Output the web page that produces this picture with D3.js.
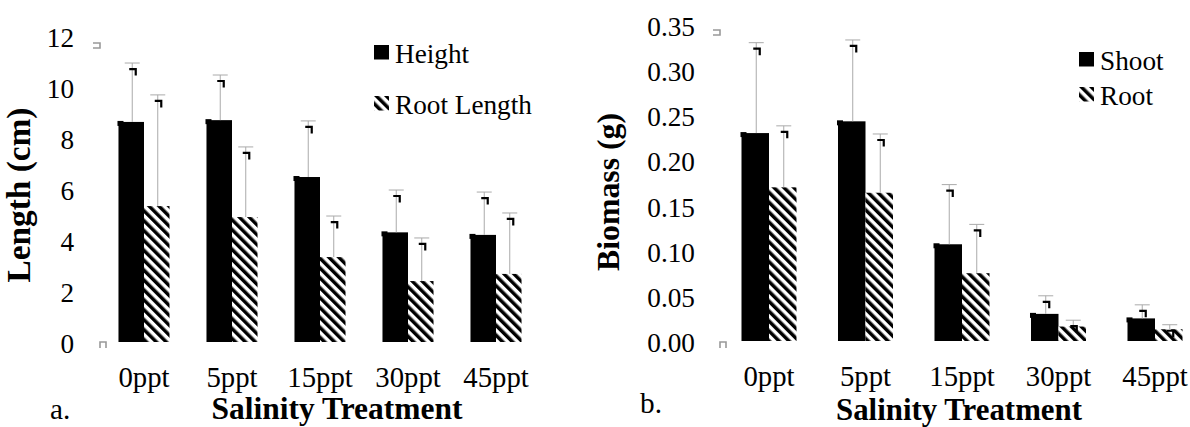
<!DOCTYPE html>
<html><head><meta charset="utf-8">
<script src="https://cdn.jsdelivr.net/npm/d3@7"></script>
<style>
html,body{margin:0;padding:0;background:#fff;}
svg{display:block;}
svg text{font-family:"Liberation Serif","DejaVu Serif",serif !important;fill:#000;}
</style></head>
<body>
<svg id="chart" width="1190" height="427"></svg>
<script>
// ---- data ----
const categories = ["0ppt", "5ppt", "15ppt", "30ppt", "45ppt"];
const lengthSeries = ["Height", "Root Length"];
const heightVals = [8.63, 8.70, 6.47, 4.30, 4.20];
const heightErr = [2.31, 1.77, 2.20, 1.66, 1.68];
const rootLengthVals = [5.33, 4.90, 3.33, 2.39, 2.67];
const rootLengthErr = [4.36, 2.75, 1.61, 1.69, 2.39];
const lengthTicks = [0, 2, 4, 6, 8, 10, 12];

const biomassSeries = ["Shoot", "Root"];
const shootVals = [0.230, 0.243, 0.107, 0.030, 0.025];
const shootErr = [0.100, 0.090, 0.066, 0.020, 0.015];
const rootVals = [0.170, 0.164, 0.075, 0.016, 0.013];
const rootErr = [0.068, 0.065, 0.054, 0.007, 0.005];
const biomassTicks = [0, 0.05, 0.10, 0.15, 0.20, 0.25, 0.30, 0.35];

const svg = d3.select("#chart");
const defs = svg.append("defs");
const pat = defs.append("pattern")
  .attr("id", "hatch").attr("patternUnits", "userSpaceOnUse")
  .attr("width", 7).attr("height", 7)
  .attr("patternTransform", "rotate(-45)");
pat.append("rect").attr("width", 7).attr("height", 7).attr("fill", "#fff");
pat.append("rect").attr("width", 3.5).attr("height", 7).attr("fill", "#000");

// size factor so that the installed serif font matches the reference text widths
const probe = svg.append("text").attr("font-size", 27).text("Root Length");
const f = Math.min(1.15, 137 / probe.node().getComputedTextLength());
probe.remove();

function fit(sel, target, base) {
  sel.attr("font-size", base);
  const w = sel.node().getComputedTextLength();
  sel.attr("font-size", base * target / w);
}

function drawPanel(cfg) {
  const g = svg.append("g");
  const y = d3.scaleLinear().domain(cfg.yDomain).range(cfg.yRange);
  const x0 = d3.scaleBand().domain(categories).range(cfg.xRange)
    .paddingInner(cfg.padIn).paddingOuter(cfg.padOut);
  const x1 = d3.scaleBand().domain(cfg.series).range([0, x0.bandwidth()]);

  const yAxis = d3.axisLeft(y).tickValues(cfg.ticks).tickFormat(cfg.fmt).tickSize(0).tickPadding(0);
  const ya = g.append("g").attr("transform", `translate(${cfg.yLabelX},2)`).call(yAxis);
  ya.select(".domain").remove();
  ya.selectAll("text").attr("font-size", 27 * f).attr("fill", "#000");

  const xAxis = d3.axisBottom(x0).tickSize(0).tickPadding(0);
  const xa = g.append("g").attr("transform", `translate(0,${cfg.xLabelY})`).call(xAxis);
  xa.select(".domain").remove();
  xa.selectAll("text").attr("font-size", 28.5 * f).attr("fill", "#000").attr("dy", 0);

  const rows = categories.map((c, i) => ({ c, i }));
  cfg.series.forEach((s, si) => {
    const vals = cfg.vals[si], errs = cfg.errs[si];
    const fill = si === 0 ? "#000" : "url(#hatch)";
    const bg = g.append("g");
    bg.selectAll("rect.bar").data(rows).join("rect").attr("class", "bar")
      .attr("x", d => x0(d.c) + x1(s))
      .attr("y", d => y(vals[d.i]))
      .attr("width", x1.bandwidth())
      .attr("height", d => y(0) - y(vals[d.i]))
      .attr("fill", fill);
    if (si === 0) {
      bg.selectAll("rect.nub").data(rows).join("rect").attr("class", "nub")
        .attr("x", d => x0(d.c) + x1(s) - 1)
        .attr("y", d => y(vals[d.i]) - 1)
        .attr("width", 6).attr("height", 5).attr("fill", "#000");
    }
    const eg = g.append("g");
    const cx = d => x0(d.c) + x1(s) + x1.bandwidth() / 2 + 1;
    eg.selectAll("line.v").data(rows).join("line").attr("class", "v")
      .attr("x1", cx).attr("x2", cx)
      .attr("y1", d => y(vals[d.i])).attr("y2", d => y(vals[d.i] + errs[d.i]))
      .attr("stroke", "#aaa").attr("stroke-width", 1);
    eg.selectAll("line.cap").data(rows).join("line").attr("class", "cap")
      .attr("x1", d => cx(d) - 7.5).attr("x2", d => cx(d) + 7.5)
      .attr("y1", d => y(vals[d.i] + errs[d.i])).attr("y2", d => y(vals[d.i] + errs[d.i]))
      .attr("stroke", "#aaa").attr("stroke-width", 1);
    eg.selectAll("path.mk").data(rows).join("path").attr("class", "mk")
      .attr("d", d => {
        const t = y(vals[d.i] + errs[d.i]);
        const c = cx(d);
        return `M${c - 3},${t + 6}H${c + 3.5}V${t + 12.5}`;
      })
      .attr("fill", "none").attr("stroke", "#000").attr("stroke-width", 2.2);
  });

  cfg.series.forEach((s, si) => {
    const lg = g.append("g").attr("transform", `translate(${cfg.legX},${cfg.legY[si]})`);
    lg.append("rect").attr("x", 0).attr("y", 0).attr("width", 15).attr("height", 14.5)
      .attr("fill", si === 0 ? "#000" : "url(#hatch)");
    lg.append("text").attr("x", 21).attr("y", cfg.legTextDy).attr("font-size", 27 * f).text(s);
  });

  const xt = g.append("text").attr("x", cfg.xTitle[0]).attr("y", cfg.xTitle[1])
    .attr("text-anchor", "middle").attr("font-weight", "bold")
    .text("Salinity Treatment");
  fit(xt, cfg.xTitleW, 31);
  const yt = g.append("text")
    .attr("transform", `translate(${cfg.yTitle[0]},${cfg.yTitle[1]}) rotate(-90)`)
    .attr("text-anchor", "middle").attr("font-weight", "bold")
    .text(cfg.yTitleText);
  fit(yt, cfg.yTitleW, 32);
  g.append("text").attr("x", cfg.letter[0]).attr("y", cfg.letter[1])
    .attr("font-size", 29 * f).text(cfg.letterText);

  const [mx1, my1] = cfg.markTop, [mx2, my2] = cfg.markBot;
  g.append("path").attr("d", `M${mx1},${my1}H${mx1 + 7}V${my1 + 5}H${mx1}`)
    .attr("fill", "none").attr("stroke", "#999").attr("stroke-width", 1.6);
  g.append("path").attr("d", `M${mx2},${my2 + 6}V${my2}H${mx2 + 6}V${my2 + 6}`)
    .attr("fill", "none").attr("stroke", "#999").attr("stroke-width", 1.6);
}

drawPanel({
  yDomain: [0, 12], yRange: [342, 36], xRange: [100, 540], padIn: 0.42, padOut: 0.21,
  series: lengthSeries, vals: [heightVals, rootLengthVals], errs: [heightErr, rootLengthErr],
  ticks: lengthTicks, fmt: d3.format("d"), yLabelX: 74, xLabelY: 387,
  legX: 374, legY: [45, 96], legTextDy: 18,
  xTitle: [337, 419], xTitleW: 251, yTitle: [30, 195], yTitleW: 175, yTitleText: "Length (cm)",
  letter: [50, 419], letterText: "a.", markTop: [93, 43], markBot: [100, 342]
});

drawPanel({
  yDomain: [0, 0.35], yRange: [341, 24.6], xRange: [720.75, 1203.25], padIn: 0.43, padOut: 0.215,
  series: biomassSeries, vals: [shootVals, rootVals], errs: [shootErr, rootErr],
  ticks: biomassTicks, fmt: d3.format(".2f"), yLabelX: 695, xLabelY: 386,
  legX: 1079, legY: [52, 87], legTextDy: 18,
  xTitle: [959, 420], xTitleW: 246, yTitle: [619, 192], yTitleW: 158, yTitleText: "Biomass (g)",
  letter: [640, 413], letterText: "b.", markTop: [713, 30], markBot: [720, 342]
});
</script>
</body></html>
